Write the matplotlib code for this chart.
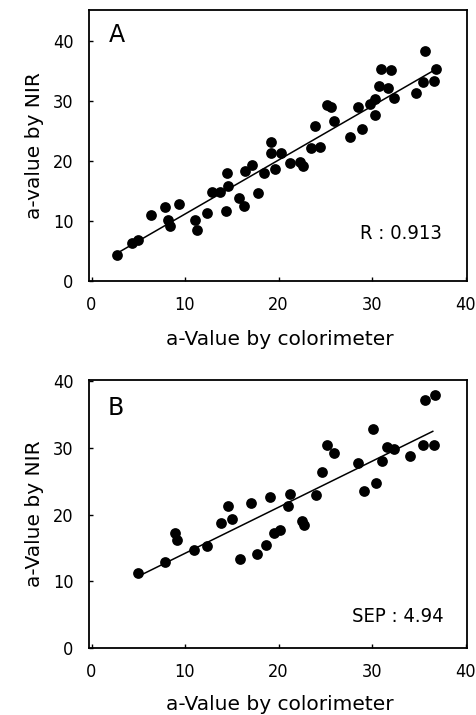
import numpy as np
import matplotlib
matplotlib.use("Agg")
import matplotlib.pyplot as plt

# Panel A data
a_x = [2.7, 4.3, 5.0, 6.4, 7.9, 8.2, 8.4, 9.4, 11.1, 11.3, 12.4, 12.9, 13.7, 14.4, 14.6,
       14.5, 15.8, 16.3, 16.4, 17.2, 17.8, 18.4, 19.2, 19.2, 19.6, 20.3, 21.2, 22.3, 22.6,
       23.5, 23.9, 24.4, 25.2, 25.6, 25.9, 27.6, 28.5, 28.9, 29.8, 30.3, 30.3, 30.7, 31.0,
       32.0, 31.7, 32.3, 34.7, 35.7, 35.5, 36.6, 36.8]
a_y = [4.3, 6.4, 6.9, 11.0, 12.3, 10.2, 9.2, 12.9, 10.2, 8.5, 11.4, 14.8, 14.9, 11.7, 15.9,
       18.0, 13.9, 12.5, 18.3, 19.3, 14.6, 18.0, 23.2, 21.3, 18.6, 21.3, 19.6, 19.9, 19.2,
       22.1, 25.9, 22.4, 29.4, 29.1, 26.7, 24.1, 29.1, 25.4, 29.5, 30.4, 27.7, 32.5, 35.4,
       35.2, 32.2, 30.6, 31.4, 38.4, 33.2, 33.3, 35.4]
a_fit_x = [2.7, 36.7]
a_fit_y = [4.6, 35.2]

# Panel B data
b_x = [5.0, 7.9, 8.9, 9.1, 11.0, 12.3, 13.9, 14.6, 15.0, 15.9, 17.1, 17.7, 18.7, 19.1, 19.5,
       20.2, 21.05, 21.2, 22.5, 22.7, 24.0, 24.7, 25.15, 25.9, 28.5, 29.1, 30.1, 30.4, 31.1,
       31.6, 32.35, 34.1, 35.5, 35.7, 36.6, 36.7]
b_y = [11.3, 12.9, 17.3, 16.2, 14.7, 15.3, 18.7, 21.3, 19.4, 13.4, 21.8, 14.1, 15.4, 22.7, 17.2,
       17.7, 21.3, 23.1, 19.0, 18.4, 23.0, 26.4, 30.4, 29.3, 27.8, 23.5, 32.8, 24.8, 28.0,
       30.2, 29.9, 28.8, 30.4, 37.2, 30.4, 37.9]
b_fit_x = [5.0, 36.5]
b_fit_y = [10.75, 32.5]

ticks_x = [0, 10, 20, 30, 40]
ticks_y = [0, 10, 20, 30, 40]

W, H = 477, 715
fig = plt.figure(figsize=(W / 100, H / 100), dpi=100)

lab_font = ['DejaVu Sans']


def make_ax(left, right, top, bottom):
    return fig.add_axes([left / W, 1 - bottom / H, (right - left) / W, (bottom - top) / H])


def style(ax, xlim, ylim, ylabel, xlabel_y):
    ax.set_xlim(*xlim)
    ax.set_ylim(*ylim)
    ax.set_xticks(ticks_x)
    ax.set_yticks(ticks_y)
    ax.tick_params(direction='in', length=3, width=1, pad=11, labelsize=13)
    for lab in ax.get_xticklabels() + ax.get_yticklabels():
        lab.set_family(['DejaVu Sans'])
        lab.set_stretch('condensed')
    for s in ax.spines.values():
        s.set_linewidth(1.3)
    ax.set_ylabel(ylabel, family=lab_font, fontsize=14.5)
    ax.set_xlabel('a-Value by colorimeter', family=lab_font, fontsize=14.5)
    ax.yaxis.set_label_coords(-0.118, 0.5)
    ax.xaxis.set_label_coords(0.504, xlabel_y)


axA = make_ax(89, 467, 10, 281)
axA.scatter(a_x, a_y, s=60, color='black', zorder=3, linewidths=0)
axA.plot(a_fit_x, a_fit_y, color='black', lw=1.1, zorder=2)
style(axA, (-0.27, 40.16), (0, 45.2), 'a-value by NIR', -0.181)
axA.text(0.053, 0.907, 'A', transform=axA.transAxes, ha='left', va='center',
         fontsize=17, family=lab_font)
axA.text(0.934, 0.174, 'R : 0.913', transform=axA.transAxes, ha='right', va='center',
         fontsize=14.5, family=lab_font, stretch='condensed')

axB = make_ax(89, 467, 380, 648)
axB.scatter(b_x, b_y, s=60, color='black', zorder=3, linewidths=0)
axB.plot(b_fit_x, b_fit_y, color='black', lw=1.1, zorder=2)
style(axB, (-0.27, 40.16), (0, 40.2), 'a-Value by NIR', -0.175)
axB.text(0.048, 0.895, 'B', transform=axB.transAxes, ha='left', va='center',
         fontsize=17, family=lab_font)
axB.text(0.937, 0.117, 'SEP : 4.94', transform=axB.transAxes, ha='right', va='center',
         fontsize=14.5, family=lab_font, stretch='condensed')

fig.savefig('out.png', dpi=100)
